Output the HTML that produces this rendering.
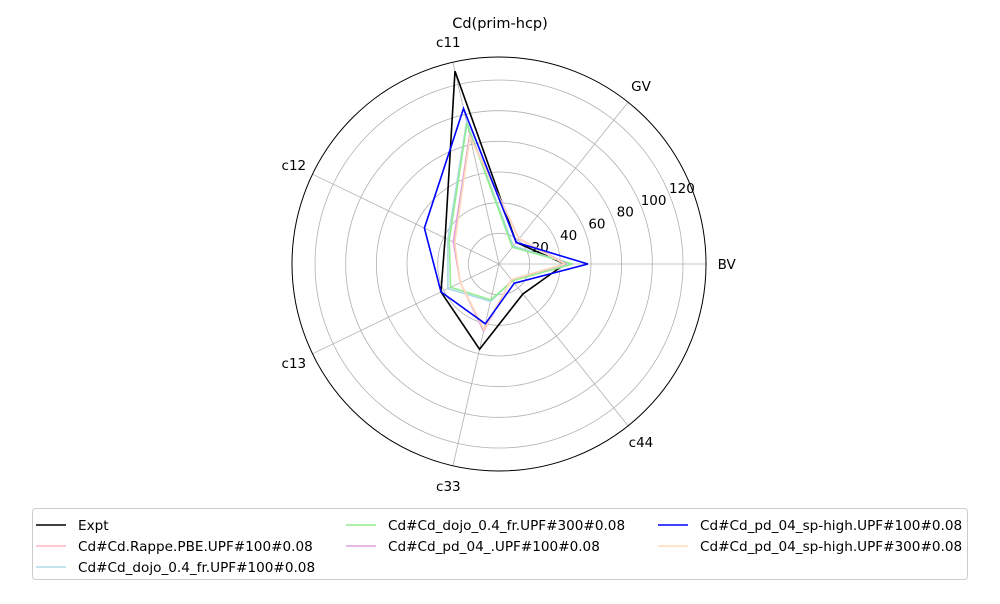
<!DOCTYPE html>
<html><head><meta charset="utf-8"><style>
body{margin:0;background:#fff;font-family:"DejaVu Sans","Liberation Sans",sans-serif;}
svg text{font-family:"DejaVu Sans","Liberation Sans",sans-serif;}
</style></head><body>
<svg id="chart" width="1000" height="600" viewBox="0 0 1000 600" xmlns="http://www.w3.org/2000/svg">
<rect width="1000" height="600" fill="#fff"/>
<text x="500" y="28" text-anchor="middle" font-size="14.5">Cd(prim-hcp)</text>
<g id="grid"></g><g id="series"></g><g id="legend"></g>
</svg>
<script>
const categories = ["BV","GV","c11","c12","c13","c33","c44"];
const tickValues = [20,40,60,80,100,120];
const seriesNames = ["Expt","Cd#Cd.Rappe.PBE.UPF#100#0.08","Cd#Cd_dojo_0.4_fr.UPF#100#0.08","Cd#Cd_dojo_0.4_fr.UPF#300#0.08","Cd#Cd_pd_04_.UPF#100#0.08","Cd#Cd_pd_04_sp-high.UPF#100#0.08","Cd#Cd_pd_04_sp-high.UPF#300#0.08"];
const seriesColors = ["#000000","#ffb6c1","#add8e6","#90ee90","#dda0dd","#0000ff","#ffdab9"];
const expt = [43,18,129,39,42,57,25];
const rappe = [43,21,86,33,28,44,13];
const dojo100 = [47,15,95,37,37,25,14];
const dojo300 = [48,14,94,36,35,24,14];
const pd04 = [44,21,86,33,28,45,13];
const spHigh100 = [58,18,104,54,42,40,16];
const spHigh300 = [43,21,85,32,28,44,13];
const seriesValues = [expt,rappe,dojo100,dojo300,pd04,spHigh100,spHigh300];

const cx=499, cy=264, R=207, rMax=135;
const NS="http://www.w3.org/2000/svg";
function rScale(v){return v/rMax*R;}
function ang(i){return i*2*Math.PI/categories.length;}
function pt(i,v){const r=rScale(v),a=ang(i);return [cx+r*Math.cos(a), cy-r*Math.sin(a)];}
function mk(tag,attrs,parent){const e=document.createElementNS(NS,tag);for(const k in attrs)e.setAttribute(k,attrs[k]);parent.appendChild(e);return e;}
const grid=document.getElementById('grid');
tickValues.forEach(t=>{
  const c=mk('circle',{cx:cx,cy:cy,r:rScale(t),fill:'none',stroke:'#b0b0b0','stroke-width':0.8},grid);
  
  
  const a=22.5*Math.PI/180, rr=rScale(t)+14;
  const tx=mk('text',{x:cx+rr*Math.cos(a),y:cy-rr*Math.sin(a)+5,'text-anchor':'middle','font-size':13.5},grid);
  tx.textContent=t;
  
  
});
categories.forEach((c,i)=>{
  const p=pt(i,rMax);
  const l=mk('line',{x1:cx,y1:cy,x2:p[0],y2:p[1],stroke:'#b0b0b0','stroke-width':0.8},grid);
  
  
  const q=pt(i,rMax*1.1);
  const t=mk('text',{x:q[0],y:q[1]+5,'text-anchor':'middle','font-size':13.5},grid);
  t.textContent=c;
  
  
});
const outer=mk('circle',{cx:cx,cy:cy,r:R,fill:'none',stroke:'#000','stroke-width':1},grid);


const sg=document.getElementById('series');
const order=[0,1,2,3,4,6,5];
order.forEach(s=>{
  const pts=seriesValues[s].map((v,i)=>pt(i,v));
  pts.push(pts[0]);
  const pl=mk('polyline',{points:pts.map(p=>p.join(',')).join(' '),fill:'none',stroke:seriesColors[s],'stroke-width':1.6,'stroke-linejoin':'miter'},sg);
  
  
});
const lg=document.getElementById('legend');
const box=mk('rect',{x:32.5,y:508.5,width:935,height:71,rx:3,fill:'#fff',stroke:'#ccc','stroke-width':1},lg);


const colX=[36,346,658], rowY=[525,546,567];
seriesNames.forEach((n,s)=>{
  const cIdx=s<3?0:(s<5?1:2);
  const x=colX[cIdx], y=rowY[s<3?s:(s<5?s-3:s-5)];
  const g=mk('g',{},lg);
  
  
  mk('line',{x1:x,y1:y,x2:x+30,y2:y,stroke:seriesColors[s],'stroke-width':1.6},g);
  const t=mk('text',{x:x+42,y:y+5,'font-size':13.6},g);
  t.textContent=n;
});
</script>
</body></html>
